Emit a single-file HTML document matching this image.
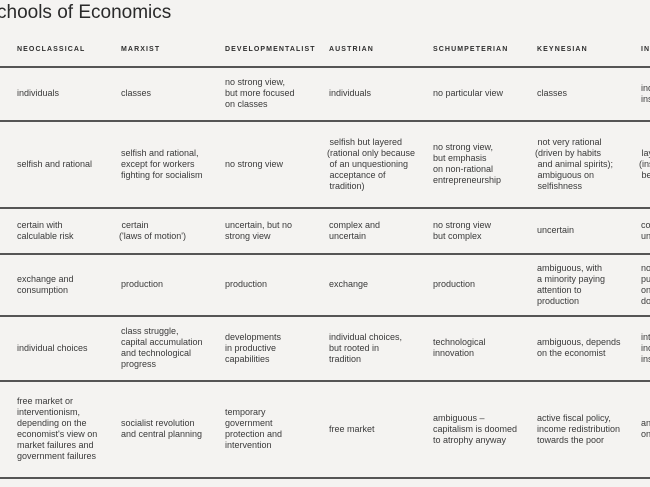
<!DOCTYPE html>
<html><head><meta charset="utf-8"><style>
html,body{margin:0;padding:0;background:#f4f3f1;width:650px;height:487px;overflow:hidden;font-family:"Liberation Sans",sans-serif;color:#3a3a3a}
.t{position:absolute;left:-3px;top:2px;font-size:19px;color:#2a2a2a;white-space:nowrap}
.h{position:absolute;top:46px;font-size:7px;font-weight:bold;letter-spacing:1.1px;color:#2e2e2e;white-space:nowrap;overflow:hidden}
.l{position:absolute;left:0;width:650px;height:1.5px;background:#555}
.c{position:absolute;display:flex;align-items:center;font-size:9px;line-height:11px;width:102px;white-space:nowrap;overflow:hidden}
.e{width:9px}
</style></head><body>
<div class="t">chools of Economics</div>
<div class="h" style="left:17px">NEOCLASSICAL</div>
<div class="h" style="left:121px">MARXIST</div>
<div class="h" style="left:225px">DEVELOPMENTALIST</div>
<div class="h" style="left:329px">AUSTRIAN</div>
<div class="h" style="left:433px">SCHUMPETERIAN</div>
<div class="h" style="left:537px">KEYNESIAN</div>
<div class="h" style="left:641px;width:9px">IN</div>
<div class="l" style="top:66px"></div>
<div class="l" style="top:120px"></div>
<div class="l" style="top:207px"></div>
<div class="l" style="top:253px"></div>
<div class="l" style="top:315px"></div>
<div class="l" style="top:380px"></div>
<div class="l" style="top:477px"></div>

<div class="c" style="left:17px;top:67px;height:53px">individuals</div>
<div class="c" style="left:121px;top:67px;height:53px">classes</div>
<div class="c" style="left:225px;top:67px;height:53px">no strong view,<br>but more focused<br>on classes</div>
<div class="c" style="left:329px;top:67px;height:53px">individuals</div>
<div class="c" style="left:433px;top:67px;height:53px">no particular view</div>
<div class="c" style="left:537px;top:67px;height:53px">classes</div>
<div class="c e" style="left:641px;top:67px;height:53px">ind<br>ins</div>

<div class="c" style="left:17px;top:121px;height:86px">selfish and rational</div>
<div class="c" style="left:121px;top:121px;height:86px">selfish and rational,<br>except for workers<br>fighting for socialism</div>
<div class="c" style="left:225px;top:121px;height:86px">no strong view</div>
<div class="c" style="left:327px;top:121px;height:86px">&nbsp;selfish but layered<br>(rational only because<br>&nbsp;of an unquestioning<br>&nbsp;acceptance of<br>&nbsp;tradition)</div>
<div class="c" style="left:433px;top:121px;height:86px">no strong view,<br>but emphasis<br>on non-rational<br>entrepreneurship</div>
<div class="c" style="left:535px;top:121px;height:86px">&nbsp;not very rational<br>(driven by habits<br>&nbsp;and animal spirits);<br>&nbsp;ambiguous on<br>&nbsp;selfishness</div>
<div class="c" style="left:639px;top:121px;height:86px;width:11px">&nbsp;lay<br>(ins<br>&nbsp;be</div>

<div class="c" style="left:17px;top:208px;height:45px">certain with<br>calculable risk</div>
<div class="c" style="left:119px;top:208px;height:45px">&nbsp;certain<br>('laws of motion')</div>
<div class="c" style="left:225px;top:208px;height:45px">uncertain, but no<br>strong view</div>
<div class="c" style="left:329px;top:208px;height:45px">complex and<br>uncertain</div>
<div class="c" style="left:433px;top:208px;height:45px">no strong view<br>but complex</div>
<div class="c" style="left:537px;top:208px;height:45px">uncertain</div>
<div class="c e" style="left:641px;top:208px;height:45px">co<br>un</div>

<div class="c" style="left:17px;top:254px;height:61px">exchange and<br>consumption</div>
<div class="c" style="left:121px;top:254px;height:61px">production</div>
<div class="c" style="left:225px;top:254px;height:61px">production</div>
<div class="c" style="left:329px;top:254px;height:61px">exchange</div>
<div class="c" style="left:433px;top:254px;height:61px">production</div>
<div class="c" style="left:537px;top:254px;height:61px">ambiguous, with<br>a minority paying<br>attention to<br>production</div>
<div class="c e" style="left:641px;top:254px;height:61px">no<br>pu<br>on<br>do</div>

<div class="c" style="left:17px;top:316px;height:64px">individual choices</div>
<div class="c" style="left:121px;top:316px;height:64px">class struggle,<br>capital accumulation<br>and technological<br>progress</div>
<div class="c" style="left:225px;top:316px;height:64px">developments<br>in productive<br>capabilities</div>
<div class="c" style="left:329px;top:316px;height:64px">individual choices,<br>but rooted in<br>tradition</div>
<div class="c" style="left:433px;top:316px;height:64px">technological<br>innovation</div>
<div class="c" style="left:537px;top:316px;height:64px">ambiguous, depends<br>on the economist</div>
<div class="c e" style="left:641px;top:316px;height:64px">int<br>inc<br>ins</div>

<div class="c" style="left:17px;top:381px;height:96px">free market or<br>interventionism,<br>depending on the<br>economist's view on<br>market failures and<br>government failures</div>
<div class="c" style="left:121px;top:381px;height:96px">socialist revolution<br>and central planning</div>
<div class="c" style="left:225px;top:381px;height:96px">temporary<br>government<br>protection and<br>intervention</div>
<div class="c" style="left:329px;top:381px;height:96px">free market</div>
<div class="c" style="left:433px;top:381px;height:96px">ambiguous –<br>capitalism is doomed<br>to atrophy anyway</div>
<div class="c" style="left:537px;top:381px;height:96px">active fiscal policy,<br>income redistribution<br>towards the poor</div>
<div class="c e" style="left:641px;top:381px;height:96px">an<br>on</div>
</body></html>
